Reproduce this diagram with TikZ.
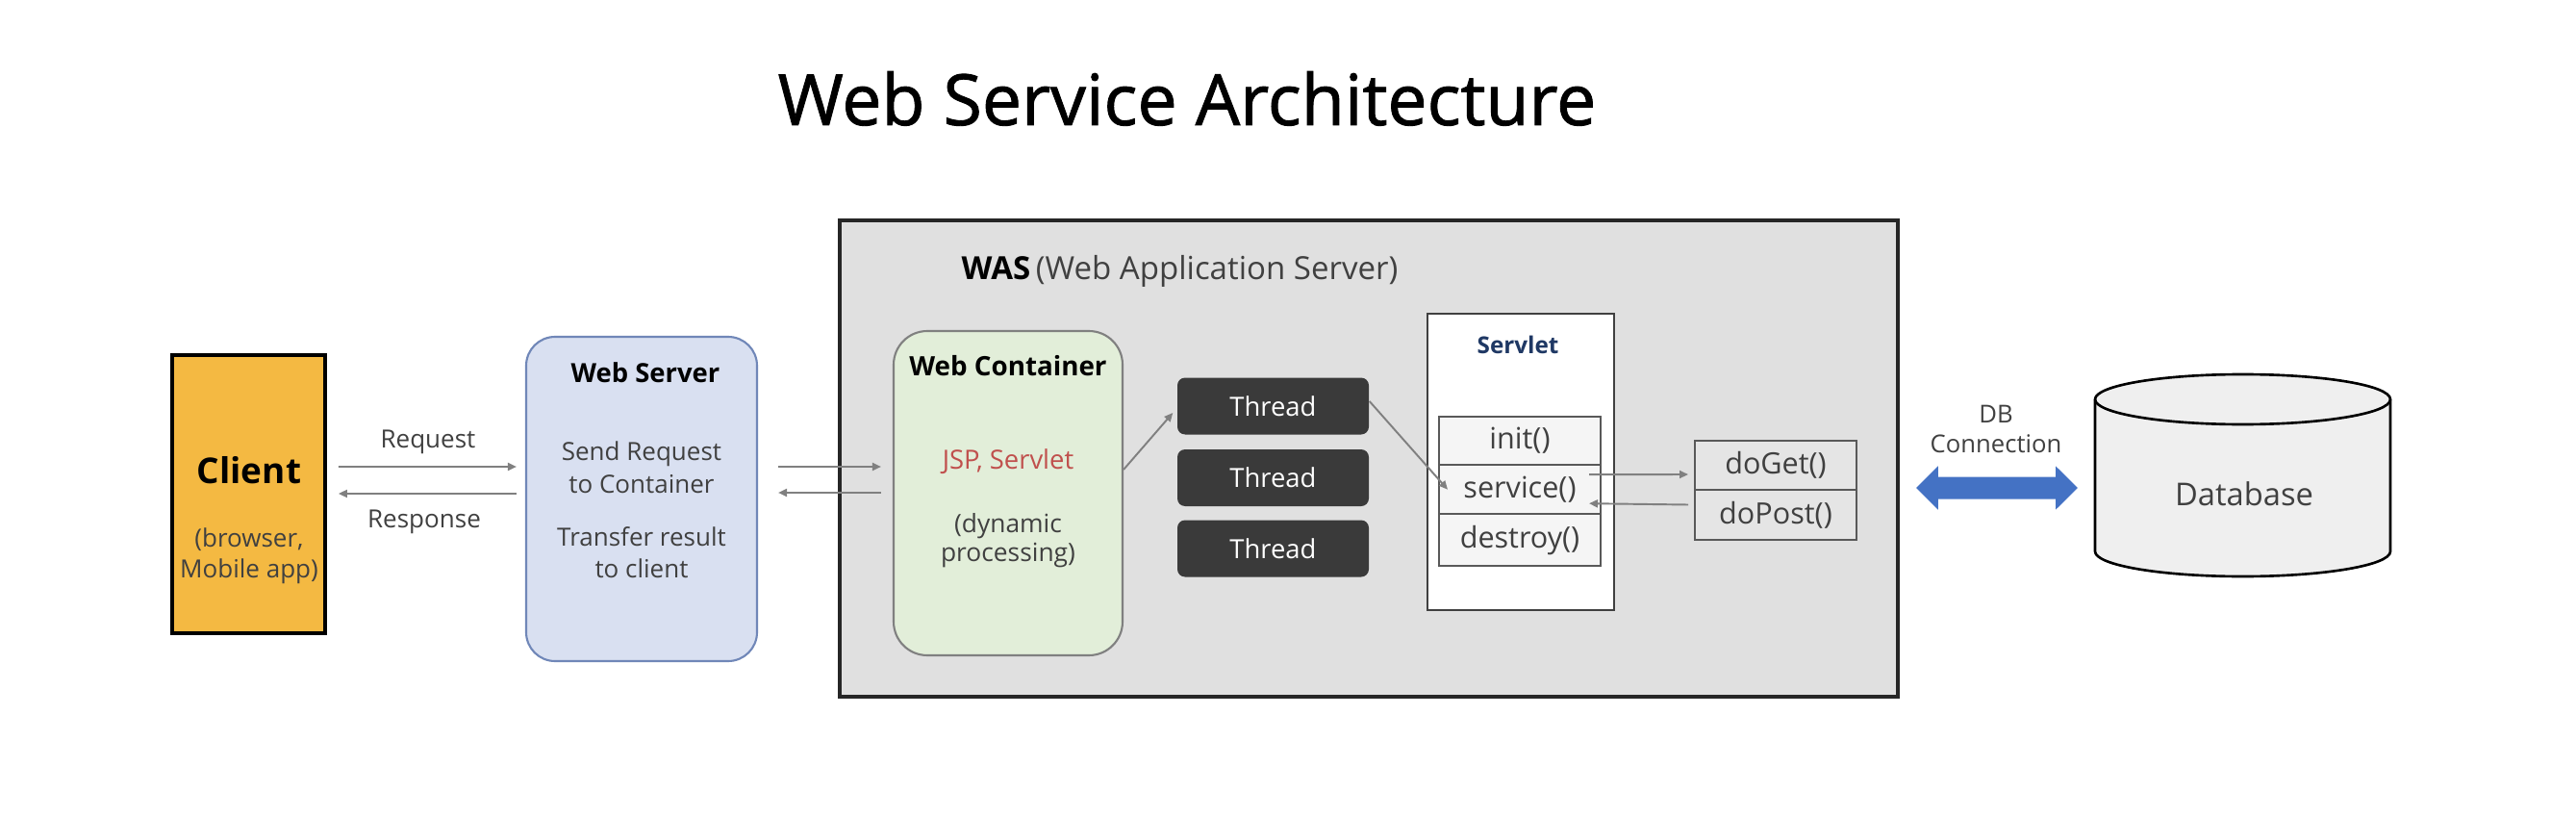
\documentclass[tikz,border=0pt]{standalone}
\usepackage{fontspec}
\setmainfont{Open Sans}
\newfontfamily\titlefont{Open Sans}[FakeBold=1.2]
\usepackage{xcolor}
\usepackage{tikz}
\usetikzlibrary{arrows.meta}
\usetikzlibrary{positioning}

\definecolor{clientfill}{HTML}{F4B942}
\definecolor{wsfill}{HTML}{D9E0F1}
\definecolor{wsline}{HTML}{7087B8}
\definecolor{wcfill}{HTML}{E2EED9}
\definecolor{wasfill}{HTML}{E0E0E0}
\definecolor{threadfill}{HTML}{3A3A3A}
\definecolor{txtgray}{HTML}{404040}
\definecolor{linegray}{HTML}{808080}
\definecolor{jspred}{HTML}{C0504D}
\definecolor{servletblue}{HTML}{1F3864}
\definecolor{dbblue}{HTML}{4472C4}
\definecolor{dbfill}{HTML}{EFEFEF}

\newcommand{\fsz}[1]{\fontsize{#1}{#1}\selectfont}

\begin{document}
\begin{tikzpicture}[
	clientbox/.style={draw=black,line width=1.1pt,fill=clientfill,minimum width=1.59cm,minimum height=2.89cm},
	wsbox/.style={draw=wsline,line width=0.6pt,fill=wsfill,rounded corners=3mm,minimum width=2.40cm,minimum height=3.37cm},
	wasbox/.style={draw=black!85,line width=1.1pt,fill=wasfill,minimum width=11cm,minimum height=4.95cm},
	wcbox/.style={draw=linegray,line width=0.6pt,fill=wcfill,rounded corners=3.5mm,minimum width=2.38cm,minimum height=3.37cm},
	threadbox/.style={fill=threadfill,rounded corners=0.8mm,minimum width=1.99cm,minimum height=0.59cm,text=white,font=\fsz{7.8}},
	servletbox/.style={draw=black!75,line width=0.7pt,fill=white,minimum width=1.94cm,minimum height=3.08cm},
	methodbox/.style={draw=black!65,line width=0.55pt,fill=black!4,minimum width=1.68cm,minimum height=0.5cm,outer sep=0pt,text=txtgray,font=\fsz{8.7}},
	dobox/.style={methodbox,fill=black!10},
	dbspace/.style={inner sep=0pt,outer sep=0pt,minimum width=3.07cm,minimum height=2.10cm},
	dbwall/.style={draw=black,line width=0.75pt,fill=dbfill},
	lbl/.style={anchor=base,text=txtgray,inner sep=0pt}]
	\path[use as bounding box] (0,0) rectangle (26.78,8.48);
	
	\node[anchor=base,inner sep=0pt,font=\titlefont\fsz{20.9}] (title) at (12.34,7.18) {Web Service Architecture};
	
	\node[wasbox] (was) at (14.23,3.715) {};
	
	\begin{scope}
		\node[clientbox] (client) at (2.585,3.345) {};
		\node[wsbox] (ws) at (6.67,3.295) {};
		\node[wcbox] (wc) at (10.48,3.355) {};
		\node[threadbox] (t1) at (13.235,4.26) {Thread};
		\node[threadbox] (t2) at (13.235,3.515) {Thread};
		\node[threadbox] (t3) at (13.235,2.78) {Thread};
		\node[servletbox] (servlet) at (15.81,3.68) {};
		\node[methodbox] (init) at (15.80,3.90) {init()};
		\node[methodbox,below=0pt of init] (service) {service()};
		\node[methodbox,below=0pt of service] (destroy) {destroy()};
		\node[dobox] (doget) at (18.46,3.645) {doGet()};
		\node[dobox,below=0pt of doget] (dopost) {doPost()};
		\node[dbspace] (db) at (23.315,3.54) {};
	\end{scope}
	
	% database can
	\path[dbwall] ([yshift=-2.6mm]db.north west) -- ([yshift=2.6mm]db.south west)
		arc[start angle=180,end angle=360,x radius=1.535cm,y radius=2.6mm]
		-- ([yshift=-2.6mm]db.north east)
		arc[start angle=0,end angle=180,x radius=1.535cm,y radius=2.6mm] -- cycle;
	\draw[line width=0.75pt] ([yshift=-2.6mm]db.north west)
		arc[start angle=180,end angle=360,x radius=1.535cm,y radius=2.6mm];
	
	\begin{scope}[every node/.style={lbl}]
		\node[font=\fsz{10.5}\bfseries,text=black] (clientname) at (2.59,3.46) {Client};
		\node[font=\fsz{7.4}] (clientsub1) at (2.59,2.80) {(browser,};
		\node[font=\fsz{7.4}] (clientsub2) at (2.59,2.48) {Mobile app)};
		\node[font=\fsz{7.4}] (reqlbl) at (4.45,3.83) {Request};
		\node[font=\fsz{7.4}] (reslbl) at (4.41,3.00) {Response};
		\node[font=\fsz{7.8}\bfseries,text=black] (wsname) at (6.71,4.51) {Web Server};
		\node[font=\fsz{7.4}] (wsline1) at (6.67,3.70) {Send Request};
		\node[font=\fsz{7.4}] (wsline2) at (6.67,3.36) {to Container};
		\node[font=\fsz{7.4}] (wsline3) at (6.67,2.81) {Transfer result};
		\node[font=\fsz{7.4}] (wsline4) at (6.67,2.48) {to client};
		\node[anchor=base west,font=\fsz{9.4}] (wasname) at (9.99,5.58) {{\bfseries\color{black}WAS}\,(Web Application Server)};
		\node[font=\fsz{7.9}\bfseries,text=black] (wcname) at (10.48,4.58) {Web Container};
		\node[font=\fsz{7.8},text=jspred] (wcjsp) at (10.48,3.60) {JSP, Servlet};
		\node[font=\fsz{7.5}] (wcline1) at (10.48,2.95) {(dynamic};
		\node[font=\fsz{7.5}] (wcline2) at (10.48,2.65) {processing)};
		\node[font=\fsz{6.9}\bfseries,text=servletblue] (servletname) at (15.78,4.80) {Servlet};
		\node[font=\fsz{7.3}] (dblbl1) at (20.75,4.09) {DB};
		\node[font=\fsz{7.3}] (dblbl2) at (20.75,3.78) {Connection};
		\node[anchor=center,font=\fsz{9.3}] (dbname) at (23.33,3.35) {Database};
	\end{scope}
	
	\begin{scope}[>={Triangle[length=0.9mm,width=0.8mm]},
		every edge/.style={draw=linegray,line width=0.55pt}]
		\path [->] ([xshift=1.2mm,yshift=2.85mm]client.east) edge ([xshift=-0.9mm,yshift=3.35mm]ws.west);%request%
		\path [->] ([xshift=-0.9mm,yshift=0.55mm]ws.west) edge ([xshift=1.2mm,yshift=0.05mm]client.east);%response%
		\path [->] ([xshift=2.1mm,yshift=3.35mm]ws.east) edge ([xshift=-1.2mm,yshift=2.75mm]wc.west);
		\path [->] ([xshift=-1.2mm,yshift=0.05mm]wc.west) edge ([xshift=2.1mm,yshift=0.65mm]ws.east);
		\path [->] ([yshift=2.45mm]wc.east) edge ([xshift=-0.4mm,yshift=-0.7mm]t1.west);
		\path [->] ([yshift=0.5mm]t1.east) edge ([xshift=0.9mm]service.west);
		\path [->] ([xshift=-1.2mm,yshift=1.55mm]service.east) edge ([xshift=-0.7mm,yshift=-0.95mm]doget.west);
		\path [->] ([xshift=-0.7mm,yshift=1.05mm]dopost.west) edge ([xshift=-1.2mm,yshift=-1.45mm]service.east);
	\end{scope}
	
	\draw[dbblue,line width=2.3mm,{Triangle[length=2.3mm,width=4.4mm]}-{Triangle[length=2.3mm,width=4.4mm]}]
		([xshift=1.7mm,yshift=-3.05mm]was.east) -- ([xshift=-1.8mm,yshift=-1.3mm]db.west);%db connection%
\end{tikzpicture}
\end{document}
